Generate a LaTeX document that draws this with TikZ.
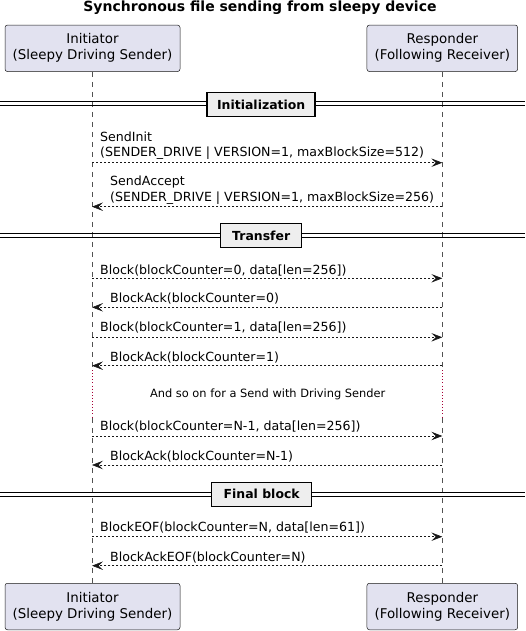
\documentclass[tikz,border=0pt]{standalone}
\usepackage{fontspec}
\setmainfont{DejaVu Sans}
\usetikzlibrary{arrows.meta}
\definecolor{partfill}{HTML}{E2E2F0}
\definecolor{lineclr}{HTML}{181818}
\definecolor{divfill}{HTML}{EEEEEE}
\definecolor{delayclr}{HTML}{A80036}
\begin{document}
\begin{tikzpicture}[x=1pt,y=-1pt,
  part/.style={draw=lineclr, fill=partfill, rounded corners=2.5pt, line width=0.5pt,
    minimum height=46.5pt, align=center, inner sep=0pt,
    font=\fontsize{13.4}{16}\selectfont},
  lifeline/.style={draw=lineclr!75, line width=0.5pt, dash pattern=on 5pt off 5pt},
  delayline/.style={draw=delayclr, line width=0.9pt, dash pattern=on 0.9pt off 2.2pt},
  msg/.style={draw=lineclr, line width=0.6pt, dash pattern=on 2pt off 2pt,
    -{Stealth[length=11pt,width=8.5pt,inset=4.5pt,fill=lineclr]}},
  msglabel/.style={anchor=base west, inner sep=0pt, align=left,
    font=\fontsize{12.6}{15.7}\selectfont, text=black},
  divbox/.style={draw=black, fill=divfill, line width=1.5pt, minimum height=24pt,
    inner sep=0pt, font=\bfseries\fontsize{12.45}{15}\selectfont},
  divline/.style={draw=black, line width=0.9pt},
]
\useasboundingbox (0,0) rectangle (525,631);

% title
\node[anchor=base, inner sep=0pt, font=\bfseries\fontsize{14}{16}\selectfont] (title) at (260,12) {Synchronous file sending from sleepy device};

% participants
\node[part, minimum width=175pt] (itop) at (92.5,48.3) {Initiator\\(Sleepy Driving Sender)};
\node[part, minimum width=150.7pt] (rtop) at (442.3,48.3) {Responder\\(Following Receiver)};
\node[part, minimum width=175pt] (ibot) at (92.5,606.5) {Initiator\\(Sleepy Driving Sender)};
\node[part, minimum width=150.7pt] (rbot) at (442.3,606.5) {Responder\\(Following Receiver)};

% lifeline coordinates
\coordinate (iL) at (92,0);
\coordinate (rL) at (442.3,0);
\coordinate (id1) at (92,370);
\coordinate (id2) at (92,418);
\coordinate (rd1) at (442.3,370);
\coordinate (rd2) at (442.3,418);

\draw[lifeline] (iL |- itop.south) -- (id1);
\draw[delayline] (id1) -- (id2);
\draw[lifeline] (id2) -- (iL |- ibot.north);
\draw[lifeline] (rL |- rtop.south) -- (rd1);
\draw[delayline] (rd1) -- (rd2);
\draw[lifeline] (rd2) -- (rL |- rbot.north);

% dividers
\coordinate (dl1) at (0,103.5); \coordinate (dr1) at (525,103.5);
\draw[divline] ([yshift=-1.8pt]dl1) -- ([yshift=-1.8pt]dr1);
\draw[divline] ([yshift=1.8pt]dl1) -- ([yshift=1.8pt]dr1);
\node[divbox, minimum width=108pt] (div1) at (261.2,104.5) {Initialization};

\coordinate (dl2) at (0,235.5); \coordinate (dr2) at (525,235.5);
\draw[divline] ([yshift=-1.8pt]dl2) -- ([yshift=-1.8pt]dr2);
\draw[divline] ([yshift=1.8pt]dl2) -- ([yshift=1.8pt]dr2);
\node[divbox, minimum width=81pt] (div2) at (261.2,235.5) {Transfer};

\coordinate (dl3) at (0,494.3); \coordinate (dr3) at (525,494.3);
\draw[divline] ([yshift=-1.8pt]dl3) -- ([yshift=-1.8pt]dr3);
\draw[divline] ([yshift=1.8pt]dl3) -- ([yshift=1.8pt]dr3);
\node[divbox, minimum width=100pt] (div3) at (261.7,494.3) {Final block};

% messages
\coordinate (a1) at (92,162.7); \coordinate (b1) at (442.3,162.7);
\draw[msg] (a1) -- (b1);
\node[msglabel] (l1) at (100,156.7) {SendInit\\(SENDER\_DRIVE | VERSION=1, maxBlockSize=512)};

\coordinate (a2) at (442.3,206.7); \coordinate (b2) at (92,206.7);
\draw[msg] (a2) -- (b2);
\node[msglabel] (l2) at (110,201) {SendAccept\\(SENDER\_DRIVE | VERSION=1, maxBlockSize=256)};

\coordinate (a3) at (92,278.3); \coordinate (b3) at (442.3,278.3);
\draw[msg] (a3) -- (b3);
\node[msglabel] (l3) at (100,274.3) {Block(blockCounter=0, data[len=256])};

\coordinate (a4) at (442.3,307.3); \coordinate (b4) at (92,307.3);
\draw[msg] (a4) -- (b4);
\node[msglabel] (l4) at (110,302.7) {BlockAck(blockCounter=0)};

\coordinate (a5) at (92,337.3); \coordinate (b5) at (442.3,337.3);
\draw[msg] (a5) -- (b5);
\node[msglabel] (l5) at (100,331.7) {Block(blockCounter=1, data[len=256])};

\coordinate (a6) at (442.3,365.7); \coordinate (b6) at (92,365.7);
\draw[msg] (a6) -- (b6);
\node[msglabel] (l6) at (110,361) {BlockAck(blockCounter=1)};

\node[inner sep=0pt, anchor=base, font=\fontsize{11.4}{13}\selectfont] (delay) at (267.7,397.5) {And so on for a Send with Driving Sender};

\coordinate (a7) at (92,436); \coordinate (b7) at (442.3,436);
\draw[msg] (a7) -- (b7);
\node[msglabel] (l7) at (100,430.7) {Block(blockCounter=N-1, data[len=256])};

\coordinate (a8) at (442.3,465); \coordinate (b8) at (92,465);
\draw[msg] (a8) -- (b8);
\node[msglabel] (l8) at (110,460) {BlockAck(blockCounter=N-1)};

\coordinate (a9) at (92,536.7); \coordinate (b9) at (442.3,536.7);
\draw[msg] (a9) -- (b9);
\node[msglabel] (l9) at (100,531.7) {BlockEOF(blockCounter=N, data[len=61])};

\coordinate (a10) at (442.3,565.7); \coordinate (b10) at (92,565.7);
\draw[msg] (a10) -- (b10);
\node[msglabel] (l10) at (110,561) {BlockAckEOF(blockCounter=N)};
\end{tikzpicture}
\end{document}
